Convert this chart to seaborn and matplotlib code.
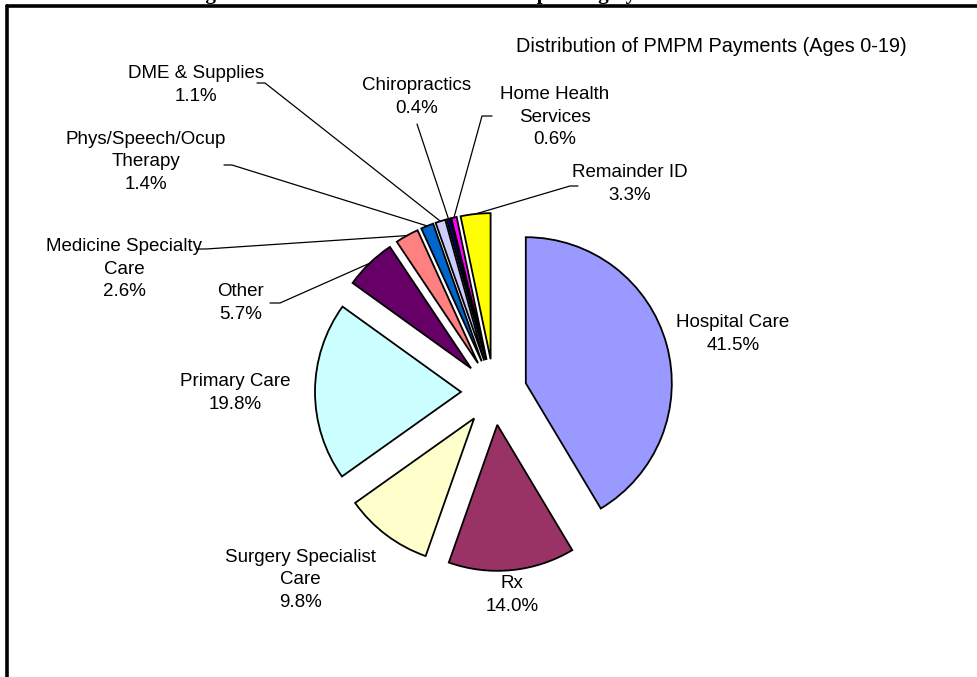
import matplotlib
matplotlib.use("Agg")
import matplotlib.pyplot as plt
import seaborn as sns
import numpy as np
from matplotlib.lines import Line2D

sns.set_theme(style="white")
plt.rcParams["font.family"] = ["Liberation Sans", "DejaVu Sans"]
plt.rcParams["text.color"] = "black"

categories = ["Hospital Care", "Rx", "Surgery Specialist\nCare", "Primary Care", "Other",
              "Medicine Specialty\nCare", "Phys/Speech/Ocup\nTherapy", "DME & Supplies",
              "Chiropractics", "Home Health\nServices", "Remainder ID"]
shares = [41.5, 14.0, 9.8, 19.8, 5.7, 2.6, 1.4, 1.1, 0.4, 0.6, 3.3]
colors = ["#9999FF", "#993366", "#FFFFCC", "#CCFFFF", "#660066", "#FF8080",
          "#0066CC", "#CCCCFF", "#000080", "#FF00FF", "#FFFF00"]
subtitle = "Distribution of PMPM Payments (Ages 0-19)"
title = "Figure 4: Distribution of Commercial Spending by Area of Service"

W, H = 978, 677
cx, cy, R = 494, 392, 146

# label centres (pixels) and leader start points (pixels)
label_pos = [(733, 334), (512, 595), (300, 580), (235, 393), (241, 303),
             (124, 269), (146, 162), (196, 85), (417, 97), (555, 117), (630, 184)]
leader_start = [None, None, None, None, [(270, 303), (280, 303)],
                [(198, 249), (206, 249)], [(224, 165), (232, 165)],
                [(257, 83), (265, 83)], [(417, 124)],
                [(492, 116), (482, 116)], [(578, 186), (570, 186)]]


def p2d(p):
    return ((p[0] - cx) / R, (cy - p[1]) / R)


fig = plt.figure(figsize=(W / 100, H / 100), dpi=100)
ax = fig.add_axes([0, 0, 1, 1])
wedges, _ = ax.pie(shares, colors=colors, startangle=90, counterclock=False,
                   explode=[0.226] * len(shares),
                   wedgeprops=dict(edgecolor="black", linewidth=1.3))
ax.set_aspect("auto")
ax.set_xlim(-cx / R, (W - cx) / R)
ax.set_ylim(-(H - cy) / R, cy / R)
ax.axis("off")

fs = 13.5
for w, cat, val, pos, ld in zip(wedges, categories, shares, label_pos, leader_start):
    x, y = p2d(pos)
    ax.text(x, y, f"{cat}\n{val:.1f}%", ha="center", va="center", fontsize=fs,
            linespacing=1.45, color="black")
    if ld is not None:
        mid = np.deg2rad((w.theta1 + w.theta2) / 2)
        tx = w.center[0] + w.r * np.cos(mid)
        ty = w.center[1] + w.r * np.sin(mid)
        pts = [p2d(p) for p in ld] + [(tx, ty)]
        ax.plot([p[0] for p in pts], [p[1] for p in pts], color="black", lw=0.9)

ax.text(*p2d((711, 47)), subtitle, ha="center", va="center", fontsize=14.3,
        color="black")

# cut-off title at top (as in the reference)
fig.text(482 / W, 1 + 1.5 / H, title, ha="center", va="baseline", fontsize=15,
         fontweight="bold", family="Liberation Serif", color="black")

# frame (left and top edges)
fig.add_artist(Line2D([7 / W, 1], [1 - 6 / H, 1 - 6 / H], color="black", lw=2.6,
                      transform=fig.transFigure))
fig.add_artist(Line2D([7 / W, 7 / W], [0, 1 - 6 / H], color="black", lw=2.6,
                      transform=fig.transFigure))

fig.savefig("out.png", dpi=100)
